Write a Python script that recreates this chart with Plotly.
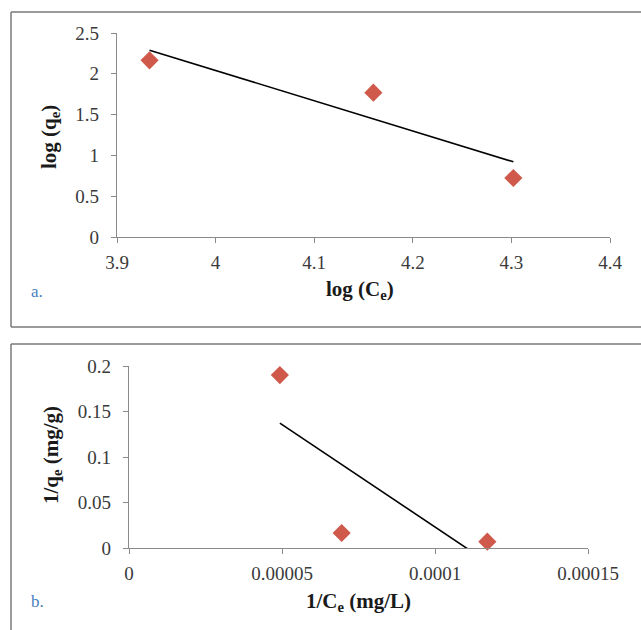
import numpy as np
import plotly.graph_objects as go

W, H = 641, 630

# ---- data ----
# panel a: Freundlich
log_ce = [3.933, 4.160, 4.302]
log_qe = [2.165, 1.769, 0.723]
a_xticks = [3.9, 4.0, 4.1, 4.2, 4.3, 4.4]
a_xticktext = ["3.9", "4", "4.1", "4.2", "4.3", "4.4"]
a_yticks = [0, 0.5, 1, 1.5, 2, 2.5]
a_yticktext = ["0", "0.5", "1", "1.5", "2", "2.5"]

# panel b: Langmuir
inv_ce = [4.93e-5, 6.95e-5, 1.171e-4]
inv_qe = [0.190, 0.0165, 0.007]
b_xticks = [0, 0.00005, 0.0001, 0.00015]
b_xticktext = ["0", "0.00005", "0.0001", "0.00015"]
b_yticks = [0, 0.05, 0.1, 0.15, 0.2]
b_yticktext = ["0", "0.05", "0.1", "0.15", "0.2"]

MARKER = "#cf5a4c"
AXIS = "#8a8a8a"
TICKFONT = dict(family="Liberation Serif", size=19, color="#3a3a3a")
TITLEFONT = dict(family="Liberation Serif", size=21, color="#1a1a1a")
LABELFONT = dict(family="Liberation Serif", size=17, color="#4a80bd")


def px_x(p):
    return p / W


def px_y(p):
    return (H - p) / H


def trend(x, y):
    k, b = np.polyfit(x, y, 1)
    xs = np.array([min(x), max(x)])
    return xs, k * xs + b


fig = go.Figure()

# panel a
ta_x, ta_y = trend(log_ce, log_qe)
fig.add_trace(go.Scatter(x=log_ce, y=log_qe, mode="markers", xaxis="x", yaxis="y",
                         marker=dict(symbol="diamond", size=14, color=MARKER),
                         cliponaxis=False, showlegend=False))
fig.add_trace(go.Scatter(x=ta_x, y=ta_y, mode="lines", xaxis="x", yaxis="y",
                         line=dict(color="black", width=1.6), showlegend=False))

# panel b
tb_x, tb_y = trend(inv_ce, inv_qe)
fig.add_trace(go.Scatter(x=inv_ce, y=inv_qe, mode="markers", xaxis="x2", yaxis="y2",
                         marker=dict(symbol="diamond", size=14, color=MARKER),
                         cliponaxis=False, showlegend=False))
fig.add_trace(go.Scatter(x=tb_x, y=tb_y, mode="lines", xaxis="x2", yaxis="y2",
                         line=dict(color="black", width=1.6), showlegend=False))

common = dict(showgrid=False, zeroline=False, showline=True, linecolor=AXIS, linewidth=1.2,
              ticks="outside", ticklen=5, tickcolor=AXIS, tickwidth=1.2,
              tickfont=TICKFONT, fixedrange=True, automargin=False)

fig.update_layout(
    width=W, height=H, autosize=False,
    margin=dict(l=0, r=0, t=0, b=0, pad=0, autoexpand=False),
    paper_bgcolor="white", plot_bgcolor="white",
    xaxis=dict(domain=[px_x(117), px_x(610)], range=[3.9, 4.4], anchor="y",
               tickvals=a_xticks, ticktext=a_xticktext, ticklabelstandoff=3, **common),
    yaxis=dict(domain=[px_y(237), px_y(33)], range=[0, 2.5], anchor="x",
               tickvals=a_yticks, ticktext=a_yticktext, ticklabelstandoff=8, **common),
    xaxis2=dict(domain=[px_x(129), px_x(588)], range=[0, 0.00015], anchor="y2",
                tickvals=b_xticks, ticktext=b_xticktext, ticklabelstandoff=3, **common),
    yaxis2=dict(domain=[px_y(548), px_y(366)], range=[0, 0.2], anchor="x2",
                tickvals=b_yticks, ticktext=b_yticktext, ticklabelstandoff=8, **common),
)

# panel borders
BORDER = dict(color="#7a7a7a", width=1.5)
for (x0, y0, x1, y1) in [
    (11, 12, 641, 12), (11, 12, 11, 327), (11, 327, 641, 327),      # panel a
    (11, 344, 641, 344), (11, 344, 11, 630),                        # panel b
]:
    fig.add_shape(type="line", xref="paper", yref="paper",
                  x0=px_x(x0), x1=px_x(x1), y0=px_y(y0), y1=px_y(y1),
                  line=BORDER, layer="below")

A = dict(xref="paper", yref="paper", showarrow=False, xanchor="center", yanchor="middle")
ann = [
    dict(text="<b>log (C<sub>e</sub>)</b>", x=px_x(360), y=px_y(290), font=TITLEFONT, **A),
    dict(text="<b>log (q<sub>e</sub>)</b>", x=px_x(50), y=px_y(137), font=TITLEFONT,
         textangle=-90, **A),
    dict(text="<b>1/C<sub>e</sub> (mg/L)</b>", x=px_x(358), y=px_y(602), font=TITLEFONT, **A),
    dict(text="<b>1/q<sub>e</sub> (mg/g)</b>", x=px_x(52), y=px_y(455), font=TITLEFONT,
         textangle=-90, **A),
    dict(text="a.", x=px_x(37), y=px_y(291), font=LABELFONT, **A),
    dict(text="b.", x=px_x(37), y=px_y(601), font=LABELFONT, **A),
]
fig.update_layout(annotations=ann)

fig.write_html("out.html", config={"displayModeBar": False})
